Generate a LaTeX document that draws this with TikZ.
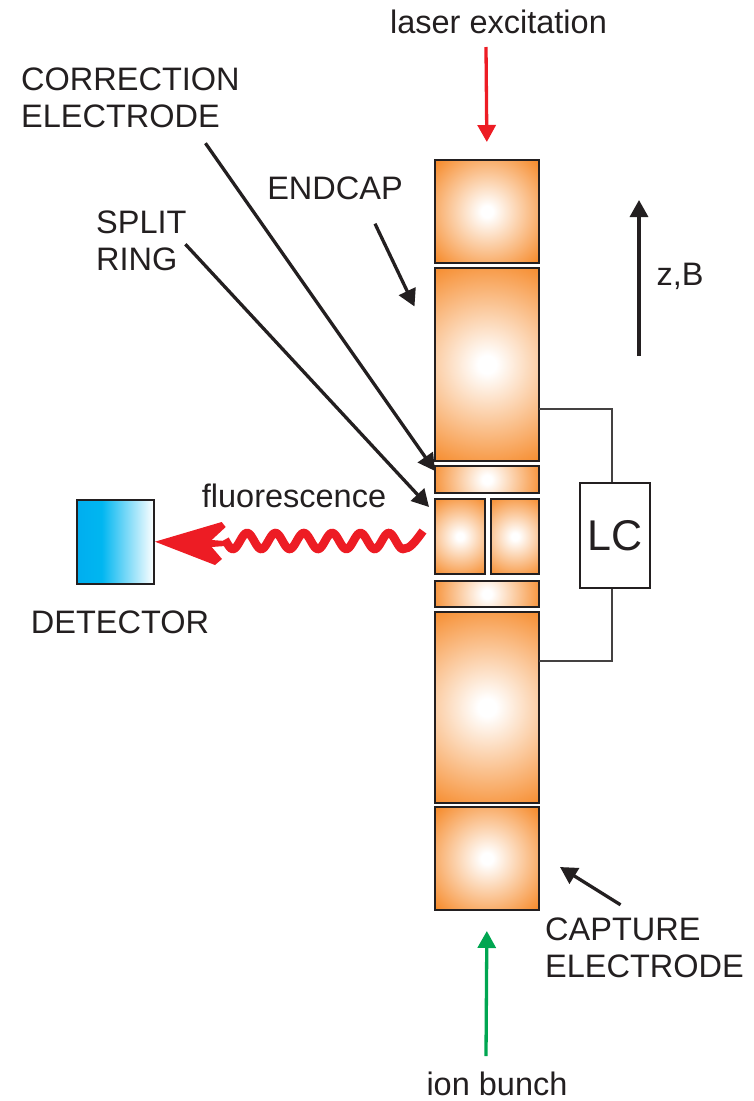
\documentclass[tikz,border=0pt]{standalone}
\usepackage{fontspec}
\setmainfont{Liberation Sans}
\usetikzlibrary{positioning,arrows.meta}

\definecolor{inkblack}{RGB}{35,31,32}
\definecolor{electrodeorange}{RGB}{246,138,42}
\definecolor{laserred}{RGB}{237,28,36}
\definecolor{iongreen}{RGB}{0,166,81}
\definecolor{detectorblue}{RGB}{0,174,239}

\pgfdeclareradialshading{electrodeglow}{\pgfpoint{0bp}{0bp}}{%
  color(0bp)=(white); color(2bp)=(white); color(25bp)=(electrodeorange); color(50bp)=(electrodeorange)}
\pgfdeclarehorizontalshading{detectorglow}{100bp}{%
  color(0bp)=(detectorblue); color(25bp)=(detectorblue); color(41bp)=(detectorblue!90!cyan); color(75bp)=(white); color(100bp)=(white)}

\tikzset{
    electrode/.style n args={3}{draw=inkblack, line width=2.4pt, fill=electrodeorange,
        minimum width=#1, minimum height=#2, inner sep=0pt, outer sep=0pt,
        path picture={\shade[shading=electrodeglow]
            (path picture bounding box.center) circle (#3);}},
    label/.style={font=\fontsize{32.5}{37}\selectfont, text=inkblack, align=left, inner sep=0pt},
    headed/.style={line width=3.3pt, -{Triangle[length=17pt,width=18pt]}},
    pointer/.style={headed, draw=inkblack, fill=inkblack},
    wire/.style={draw=inkblack!85, line width=1.8pt}
}

\begin{document}
\begin{tikzpicture}[x=1pt, y=-1pt, line join=miter]
    \useasboundingbox (0,0) rectangle (754,1101);

    % trap stack
    \node[electrode={104pt}{103pt}{72pt}] (capTop) at (487,211.5) {};
    \node[electrode={104pt}{193pt}{112pt}, below=5pt of capTop] (endcapTop) {};
    \node[electrode={104pt}{27pt}{58pt}, below=5pt of endcapTop] (corrTop) {};
    \node[electrode={50pt}{75pt}{46pt}, anchor=north west] (ringLeft) at (435,499) {};
    \node[electrode={48pt}{75pt}{46pt}, right=6pt of ringLeft] (ringRight) {};
    \node[electrode={104pt}{26pt}{58pt}, anchor=north] (corrBottom) at (487,581) {};
    \node[electrode={104pt}{191pt}{112pt}, below=5pt of corrBottom] (endcapBottom) {};
    \node[electrode={104pt}{103pt}{72pt}, below=4pt of endcapBottom] (capBottom) {};

    % LC circuit
    \node[draw=inkblack, line width=2pt, fill=white, minimum width=70pt, minimum height=105pt,
        inner sep=0pt, font=\fontsize{43}{43}\selectfont, text=inkblack] (lc) at (615,535.5) {LC};
    \draw[wire] ([yshift=-44.5pt]endcapTop.east) -| ([xshift=-3pt]lc.north);
    \draw[wire] ([xshift=-3pt]lc.south) |- ([yshift=46.5pt]endcapBottom.east);

    % labels
    \node[label] (laser) at (498.5,22) {laser excitation};
    \node[label, anchor=west] (correction) at (21,98) {CORRECTION\\ELECTRODE};
    \node[label] (endcap) at (335,188) {ENDCAP};
    \node[label, anchor=west] (split) at (96,241) {SPLIT\\RING};
    \node[label] (axis) at (680,276) {z,B};
    \node[label] (fluorescence) at (294,496) {fluorescence};
    \node[label] (detectorlabel) at (120,622) {DETECTOR};
    \node[label, anchor=west] (capture) at (545,948) {CAPTURE\\ELECTRODE};
    \node[label] (ion) at (497,1083.5) {ion bunch};

    % free ends
    \coordinate (laserStart) at (486,47);
    \coordinate (ionStart) at (486,1056);
    \coordinate (axisStart) at (639,356);
    \coordinate (axisEnd) at (639,200);
    \coordinate (endcapTip) at (414.5,306.5);
    \coordinate (corrTip) at (435,471);
    \coordinate (ringTip) at (429,507);
    \coordinate (captureTip) at (560,867);
    \coordinate (waveStart) at (423,531);
    \coordinate (waveBend) at (403,549);

    % beams
    \draw[headed, draw=laserred, fill=laserred, shorten >=18pt] (laserStart) -- (capTop.north);
    \draw[headed, draw=iongreen, fill=iongreen, shorten >=21pt] (ionStart) -- (capBottom.south);

    % pointers
    \draw[pointer] (axisStart) -- (axisEnd);
    \draw[pointer] ([xshift=40pt,yshift=-24pt]endcap.south) -- (endcapTip);
    \draw[pointer] ([xshift=75pt,yshift=-15pt]correction.south) -- (corrTip);
    \draw[pointer] ([xshift=44pt,yshift=27pt]split.south) -- (ringTip);
    \draw[pointer] ([xshift=-24pt,yshift=13pt]capture.north) -- (captureTip);

    % detector and fluorescence
    \node[draw=inkblack, line width=1.5pt, shading=detectorglow, minimum width=77pt,
        minimum height=84pt, inner sep=0pt] (detector) at (115.5,542) {};
    \draw[draw=laserred, line width=8.5pt] (waveStart) .. controls (415,542) and (410,549) .. (waveBend)
        -- plot[domain=403:225, samples=150, smooth] (\x, {541+8*cos((\x-403)*12.7)});
    \fill[laserred] (155,541.7) -- (221.7,522) -- (225.7,527) -- (211.7,540) -- (225,541)
        -- (225,546) -- (211.7,547) -- (222,559) -- (215,565) -- cycle;
\end{tikzpicture}
\end{document}
